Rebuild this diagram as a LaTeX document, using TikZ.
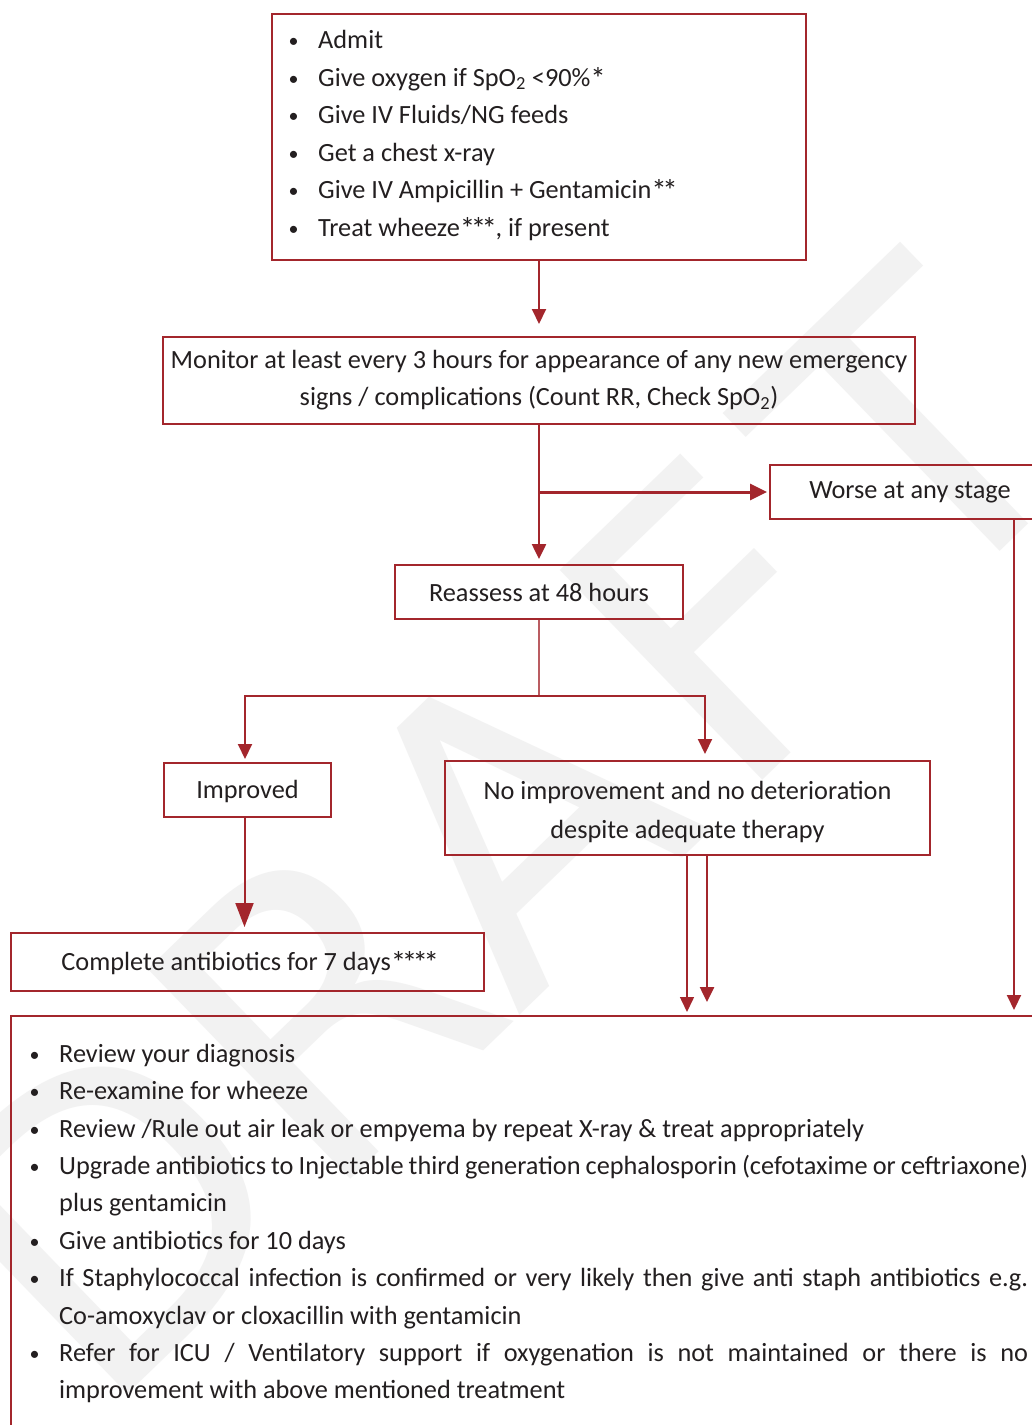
\documentclass[tikz,border=0pt]{standalone}
\usepackage{fontspec}
\setmainfont{Carlito}
\newfontfamily\wmfont{DejaVu Sans}
\usetikzlibrary{arrows.meta}
\definecolor{frame}{HTML}{A3262C}
\definecolor{ink}{HTML}{231F20}
\definecolor{wm}{HTML}{F2F2F2}
\newcommand\bodyfont{\fontsize{26.3}{37}\selectfont}
\newcommand\bul{\makebox[28pt][l]{\kern-1.5pt\raisebox{1pt}{\fontsize{20}{20}\selectfont\textbullet}}}
% one footnote asterisk, set close to its neighbours
\newcommand\st{\raisebox{-3pt}{\fontsize{31}{31}\selectfont *}\kern-4.5pt}
\newcommand\justline[1]{\hbox to 969pt{\spaceskip=0.1em plus 1fil\relax #1}}
\begin{document}
\begin{tikzpicture}[x=1pt,y=-1pt,
  box/.style={draw=frame,line width=2pt,inner sep=0pt,text=ink,align=center,font=\bodyfont},
  line/.style={text=ink,inner sep=0pt,anchor=base west,font=\bodyfont},
  label/.style={text=ink,inner sep=0pt,align=center,font=\bodyfont},
  link/.style={draw=frame,line width=2pt},
  tip/.style={-{Triangle[width=14pt,length=15pt]}},
  bigtip/.style={-{Triangle[width=18pt,length=24pt]}},
  wm letter/.style={text=wm,inner sep=0pt,rotate=44,font=\wmfont\fontsize{400}{400}\selectfont},
]
\useasboundingbox (0,0) rectangle (1032,1425);
\clip (0,0) rectangle (1032,1425);
\fill[white] (0,0) rectangle (1032,1425);

% watermark, set letter by letter along a 44 degree baseline
\foreach \ch/\s in {D/-990,R/-695,A/-425,F/-145,T/128}
  \node[wm letter] (wm\ch) at ({820.6+0.719*\s},{521.9-0.695*\s}) {\ch};

% boxes
\node[box,minimum width=534pt,minimum height=246pt] (admit) at (539,137) {};
\node[box,minimum width=752pt,minimum height=87pt] (monitor) at (539,380.5)
  {Monitor at least every 3 hours for appearance of any new emergency\\
   signs / complications (Count RR, Check SpO\textsubscript{2})};
\node[box,minimum width=290pt,minimum height=54pt] (worse) at (915,492) {};
\node[label] (worsetext) at (910,492) {Worse at any stage};
\node[box,minimum width=288pt,minimum height=54pt] (reassess) at (539,592) {Reassess at 48 hours};
\node[box,minimum width=167pt,minimum height=54pt] (improved) at (247.5,790) {};
\node[label] (improvedtext) at (247.5,791.5) {Improved};
\node[box,minimum width=485pt,minimum height=94pt] (noimp) at (687.5,808) {};
\node[label,font=\fontsize{26.3}{39}\selectfont] (noimptext) at (687.5,812)
  {No improvement and no deterioration\\despite adequate therapy};
\node[box,minimum width=473pt,minimum height=58pt] (complete) at (247.5,962) {};
\node[label] (completetext) at (248,963.5) {Complete antibiotics for 7 days\st\st\st\st};
\node[box,minimum width=1050pt,minimum height=435pt,anchor=north west] (review) at (10,1015) {};

% first-line measures
\node[line] (a1) at (290,48)    {\bul Admit};
\node[line] (a2) at (290,86)    {\bul Give oxygen if SpO\textsubscript{2} <90\%\st};
\node[line] (a3) at (290,123.5) {\bul Give IV Fluids/NG feeds};
\node[line] (a4) at (290,161)   {\bul Get a chest x-ray};
\node[line] (a5) at (290,198.5) {\bul Give IV Ampicillin + Gentamicin\st\st};
\node[line] (a6) at (290,236)   {\bul Treat wheeze\st\st\st\kern3pt, if present};

% measures when there is no improvement
\node[line] (b1)  at (31,1062) {\bul Review your diagnosis};
\node[line] (b2)  at (31,1099) {\bul Re-examine for wheeze};
\node[line] (b3)  at (31,1137) {\bul Review /Rule out air leak or empyema by repeat X-ray \& treat appropriately};
\node[line] (b4)  at (31,1174) {\bul\justline{Upgrade antibiotics to Injectable third generation cephalosporin (cefotaxime or ceftriaxone)}};
\node[line] (b5)  at (59,1211) {plus gentamicin};
\node[line] (b6)  at (31,1249) {\bul Give antibiotics for 10 days};
\node[line] (b7)  at (31,1286) {\bul\justline{If Staphylococcal infection is confirmed or very likely then give anti staph antibiotics e.g.}};
\node[line] (b8)  at (59,1324) {Co-amoxyclav or cloxacillin with gentamicin};
\node[line] (b9)  at (31,1361) {\bul\justline{Refer for ICU / Ventilatory support if oxygenation is not maintained or there is no}};
\node[line] (b10) at (59,1398) {improvement with above mentioned treatment};

% connectors
\draw[link,tip,shorten >=12pt] (admit.south) -- (monitor.north);
\draw[link,tip,line width=2.5pt,shorten >=5pt] (monitor.south) -- (reassess.north);
\coordinate (fork) at (monitor.south |- worse.west);
\draw[link,line width=3pt,-{Triangle[width=16pt,length=17pt]},shorten >=2pt] (fork) -- (worse.west);
\coordinate (wdrop) at ([xshift=99pt]worse.south);
\draw[link,tip,shorten >=5pt] (wdrop) -- (wdrop |- review.north);
\coordinate (split) at (reassess.south |- 0,696);
\draw[link,line width=1.2pt,draw=frame!75] (reassess.south) -- (split);
\draw[link,tip,shorten >=3pt] (split) -| ([xshift=-2.5pt]improved.north);
\draw[link,tip,shorten >=6pt] (split) -| ([xshift=17.5pt]noimp.north);
\draw[link,bigtip,shorten >=5pt] ([xshift=-3pt]improved.south) -- ([xshift=-3pt]complete.north);
\coordinate (nl) at ([xshift=-0.5pt]noimp.south);
\coordinate (nr) at ([xshift=19.5pt]noimp.south);
\draw[link,line width=1.5pt,tip,shorten >=3pt] (nl) -- (nl |- review.north);
\draw[link,line width=2.5pt,tip,shorten >=13pt] (nr) -- (nr |- review.north);
\end{tikzpicture}
\end{document}
